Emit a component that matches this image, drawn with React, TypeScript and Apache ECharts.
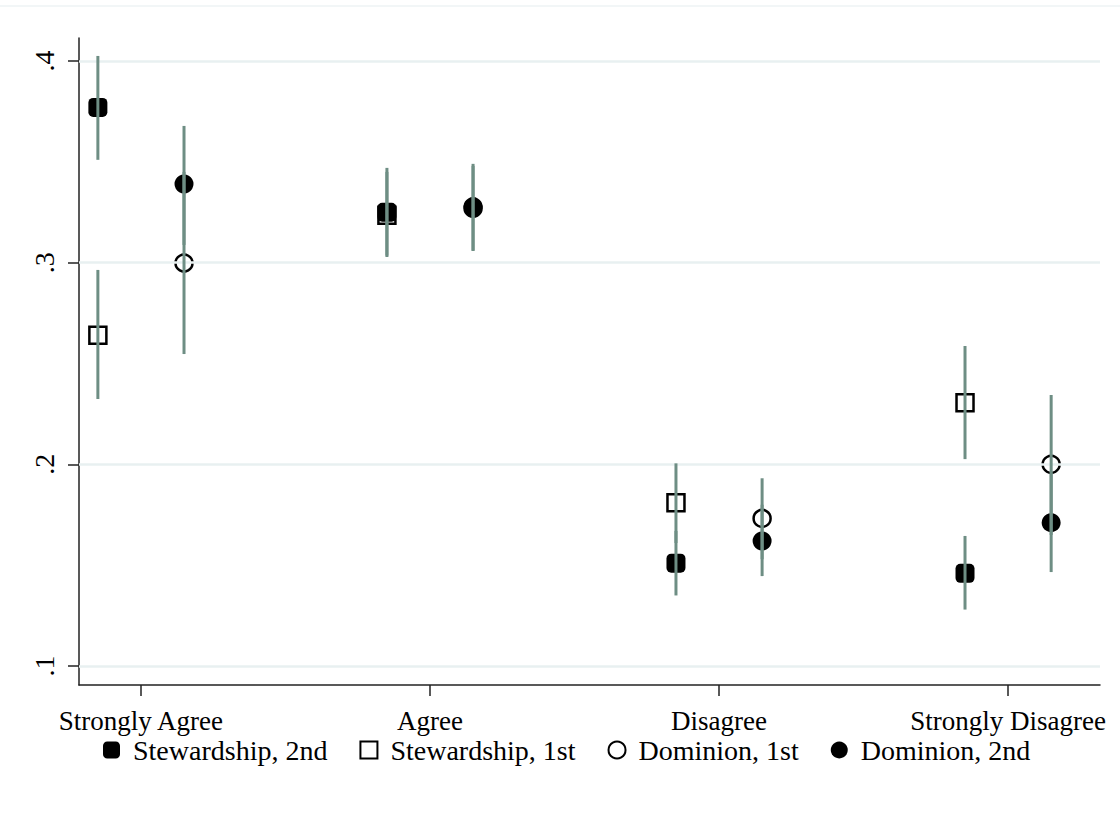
import React, { useEffect, useRef } from "react";
import * as echarts from "echarts";

const categories = ["Strongly Agree", "Agree", "Disagree", "Strongly Disagree"];
const yTickValues = [0.1, 0.2, 0.3, 0.4];
const yTickLabels = [".1", ".2", ".3", ".4"];
const xTickValues = [1, 2, 3, 4];

const stew2 = [0.377, 0.325, 0.151, 0.146];
const stew2Lo = [0.351, 0.3035, 0.135, 0.128];
const stew2Hi = [0.4025, 0.347, 0.167, 0.1645];

const stew1 = [0.264, 0.3235, 0.181, 0.2306];
const stew1Lo = [0.2324, 0.3028, 0.161, 0.2026];
const stew1Hi = [0.2964, 0.345, 0.2005, 0.2587];

const dom1 = [0.2998, 0.327, 0.1732, 0.2];
const dom1Lo = [0.2547, 0.306, 0.153, 0.165];
const dom1Hi = [0.345, 0.348, 0.1931, 0.2344];

const dom2 = [0.339, 0.3278, 0.162, 0.1711];
const dom2Lo = [0.3088, 0.3058, 0.1446, 0.1466];
const dom2Hi = [0.3678, 0.349, 0.18, 0.196];

const squareOffset = -0.149;
const circleOffset = 0.149;

const FONT = "Liberation Serif";
const BAR_COLOR = "#6e8e84";

export default function App() {
  const ref = useRef<HTMLDivElement>(null);
  useEffect(() => {
    if (!ref.current) return;
    const chart = echarts.init(ref.current, null, { renderer: "svg" });

    const pts = (vals: number[], off: number) => vals.map((v, i) => [xTickValues[i] + off, v]);
    const bars = (lo: number[], hi: number[], off: number) =>
      lo.map((l, i) => [xTickValues[i] + off, l, hi[i]]);

    const errData = [
      ...bars(stew2Lo, stew2Hi, squareOffset),
      ...bars(stew1Lo, stew1Hi, squareOffset),
      ...bars(dom1Lo, dom1Hi, circleOffset),
      ...bars(dom2Lo, dom2Hi, circleOffset),
    ];

    chart.setOption({
      animation: false,
      backgroundColor: "#fff",
      textStyle: { fontFamily: FONT },
      grid: { left: 79, right: 20, top: 38, bottom: 154 },
      graphic: [
        {
          type: "line",
          shape: { x1: 0, y1: 6, x2: 1120, y2: 6 },
          style: { stroke: "#eef3f4", lineWidth: 1.5 },
          silent: true,
        },
      ],
      legend: {
        top: 731,
        left: 98,
        itemGap: 32,
        itemWidth: 17,
        itemHeight: 17,
        textStyle: { fontFamily: FONT, fontSize: 28, color: "#000", padding: [0, 0, 0, 8] },
        data: ["Stewardship, 2nd", "Stewardship, 1st", "Dominion, 1st", "Dominion, 2nd"],
      },
      xAxis: {
        type: "value",
        min: 0.7857,
        max: 4.318,
        splitLine: { show: false },
        axisLine: { show: true, onZero: false, lineStyle: { color: "#222", width: 1.5 } },
        axisTick: { show: true, length: 11, customValues: xTickValues, lineStyle: { color: "#222", width: 1.5 } },
        axisLabel: {
          customValues: xTickValues,
          margin: 22,
          fontFamily: FONT,
          fontSize: 27,
          color: "#000",
          formatter: (v: number) => categories[Math.round(v) - 1] ?? "",
        },
      },
      yAxis: {
        type: "value",
        min: 0.0906,
        max: 0.4114,
        splitLine: { show: false },
        axisLine: { show: true, onZero: false, lineStyle: { color: "#222", width: 1.5 } },
        axisTick: { show: true, length: 11, customValues: yTickValues, lineStyle: { color: "#222", width: 1.5 } },
        axisLabel: {
          customValues: yTickValues,
          rotate: 90,
          margin: 21,
          fontFamily: FONT,
          fontSize: 28,
          color: "#000",
          formatter: (v: number) => {
            const idx = yTickValues.findIndex((t) => Math.abs(t - v) < 1e-6);
            return idx >= 0 ? yTickLabels[idx] : "";
          },
        },
      },
      series: [
        {
          type: "line",
          name: "grid",
          data: [],
          z: 1,
          silent: true,
          markLine: {
            silent: true,
            symbol: "none",
            label: { show: false },
            lineStyle: { color: "#e8f0f1", width: 2.5, type: "solid" },
            data: yTickValues.map((v) => ({ yAxis: v })),
          },
        },
        {
          type: "scatter",
          name: "Stewardship, 2nd",
          symbol: "roundRect",
          symbolSize: 19,
          z: 3,
          itemStyle: { color: "#000", opacity: 1 },
          data: pts(stew2, squareOffset),
        },
        {
          type: "scatter",
          name: "Stewardship, 1st",
          symbol: "rect",
          symbolSize: 17,
          z: 2,
          itemStyle: { color: "#fff", borderColor: "#000", borderWidth: 2.5, opacity: 1 },
          data: pts(stew1, squareOffset),
        },
        {
          type: "scatter",
          name: "Dominion, 1st",
          symbol: "circle",
          symbolSize: 17,
          z: 2,
          itemStyle: { color: "#fff", borderColor: "#000", borderWidth: 2.5, opacity: 1 },
          data: pts(dom1, circleOffset),
        },
        {
          type: "scatter",
          name: "Dominion, 2nd",
          symbol: "circle",
          symbolSize: 19,
          z: 3,
          itemStyle: { color: "#000", opacity: 1 },
          data: pts(dom2, circleOffset),
        },
        {
          type: "custom",
          name: "ci",
          z: 5,
          silent: true,
          data: errData,
          renderItem: (params: any, api: any) => {
            const p1 = api.coord([api.value(0), api.value(1)]);
            const p2 = api.coord([api.value(0), api.value(2)]);
            return {
              type: "line",
              shape: { x1: p1[0], y1: p1[1], x2: p2[0], y2: p2[1] },
              style: { stroke: BAR_COLOR, lineWidth: 3 },
            };
          },
        },
      ],
    });
    return () => chart.dispose();
  }, []);
  return (
    <div
      ref={ref}
      style={{ position: "absolute", left: 0, top: 0, width: 1120, height: 839 }}
    />
  );
}
